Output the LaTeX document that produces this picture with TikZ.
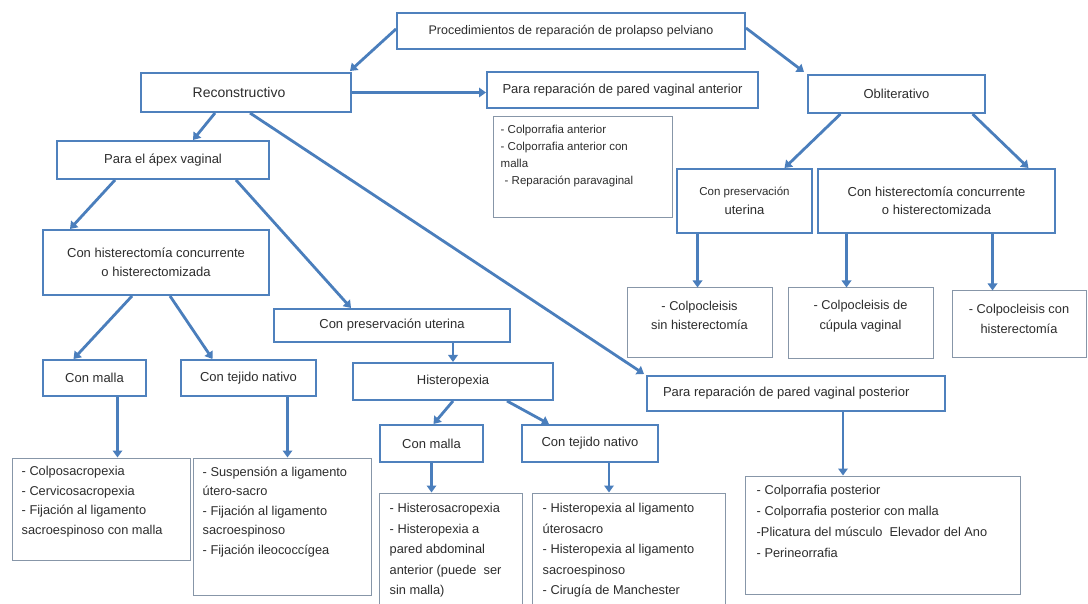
\documentclass[tikz,border=0pt]{standalone}
\usepackage{fontspec}
\setmainfont{Liberation Sans}
\usetikzlibrary{arrows.meta,calc}
\definecolor{catblue}{RGB}{79,129,189}
\definecolor{arrblue}{RGB}{74,126,188}
\definecolor{itemgray}{RGB}{135,150,168}
\definecolor{txt}{RGB}{45,45,45}
\newcommand{\lf}{\fontsize{13}{18.5}\selectfont}
\newcommand{\itf}{\fontsize{12.8}{19.5}\selectfont}
\newcommand{\bx}[7][cat]{%
  \pgfmathsetmacro{\bw}{#5-#3}\pgfmathsetmacro{\bh}{#6-#4}%
  \pgfmathsetmacro{\bcx}{(#3+#5)/2}\pgfmathsetmacro{\bcy}{(#4+#6)/2}%
  \node[#1, minimum width=\bw pt, minimum height=\bh pt] (#2) at (\bcx,\bcy) {#7};}
\tikzset{
  cat/.style={draw=catblue, line width=2pt, fill=white, font=\lf, text=txt, inner sep=0pt, align=center},
  item/.style={draw=itemgray, line width=1pt, fill=white, inner sep=0pt},
  itxt/.style={font=\itf, text=txt, align=left, inner sep=0pt, anchor=north west},
  ctxt/.style={font=\itf, text=txt, align=center, inner sep=0pt},
  arr/.style={draw=arrblue, line width=2.8pt, -{Triangle[length=7pt,width=9.5pt]}}
}
\begin{document}
\begin{tikzpicture}[x=1pt,y=-1pt]
\useasboundingbox (0,0) rectangle (1088,604);
\clip (0,0) rectangle (1088,604);
\fill[white] (0,0) rectangle (1088,604);

% category boxes
\bx{root}{397}{13}{745}{49}{\fontsize{12.5}{15}\selectfont Procedimientos de reparación de prolapso pelviano}
\bx{recon}{141}{73}{351}{112}{\fontsize{14}{16}\selectfont Reconstructivo\hspace*{14pt}}
\bx{anter}{487}{72}{758}{108}{Para reparación de pared vaginal anterior}
\bx{oblit}{808}{75}{985}{113}{Obliterativo}
\bx{apex}{57}{141}{269}{179}{Para el ápex vaginal}
\bx{presU}{677}{169}{812}{233}{\fontsize{11.5}{18}\selectfont Con preservación\\uterina}
\bx{histO}{818}{169}{1055}{233}{Con histerectomía concurrente\\o histerectomizada}
\bx{histL}{43}{230}{269}{295}{Con histerectomía concurrente\\o histerectomizada}
\bx{presL}{274}{309}{510}{342}{Con preservación uterina}
\bx{mallaL}{43}{360}{146}{396}{Con malla}
\bx{tejL}{181}{360}{316}{396}{Con tejido nativo}
\bx{hister}{353}{363}{553}{400}{Histeropexia}
\bx{poster}{647}{376}{945}{411}{}
\node[cat, draw=none, fill=none, anchor=west] (postertxt) at ([xshift=16pt]poster.west) {Para reparación de pared vaginal posterior};
\bx{mallaM}{380}{425}{483}{462}{Con malla}
\bx{tejM}{522}{425}{658}{462}{Con tejido nativo}

% item boxes
\bx[item]{antitems}{493}{117}{672}{218}{}
\node[itxt, font=\fontsize{11.5}{17}\selectfont] (antitxt) at ([xshift=8pt,yshift=-8pt]antitems.north west)
  {- Colporrafia anterior\\- Colporrafia anterior con\\malla\\\hspace{4pt}- Reparación paravaginal};
\bx[item]{colA}{627}{288}{772}{357}{}
\node[ctxt] (colAt) at ([yshift=7pt]colA.center) {- Colpocleisis\\sin histerectomía};
\bx[item]{colB}{788}{288}{933}{358}{}
\node[ctxt] (colBt) at ([yshift=7pt]colB.center) {- Colpocleisis de\\cúpula vaginal};
\bx[item]{colC}{952}{291}{1086}{357}{}
\node[ctxt] (colCt) at ([yshift=5pt]colC.center) {- Colpocleisis con\\histerectomía};
\bx[item]{iLa}{12}{458}{190}{560}{}
\node[itxt] (iLat) at ([xshift=10pt,yshift=-9pt]iLa.north west)
  {- Colposacropexia\\- Cervicosacropexia\\- Fijación al ligamento\\sacroespinoso con malla};
\bx[item]{iLb}{193}{458}{371}{595}{}
\node[itxt] (iLbt) at ([xshift=10pt,yshift=-9pt]iLb.north west)
  {- Suspensión a ligamento\\útero-sacro\\- Fijación al ligamento\\sacroespinoso\\- Fijación ileococcígea};
\bx[item]{iMa}{379}{493}{522}{615}{}
\node[itxt, font=\fontsize{12.8}{20.5}\selectfont] (iMat) at ([xshift=11pt,yshift=-11pt]iMa.north west)
  {- Histerosacropexia\\- Histeropexia a\\pared abdominal\\anterior (puede\ \ ser\\sin malla)};
\bx[item]{iMb}{532}{493}{725}{615}{}
\node[itxt, font=\fontsize{12.8}{20.5}\selectfont] (iMbt) at ([xshift=11pt,yshift=-11pt]iMb.north west)
  {- Histeropexia al ligamento\\úterosacro\\- Histeropexia al ligamento\\sacroespinoso\\- Cirugía de Manchester};
\bx[item]{iP}{745}{476}{1020}{594}{}
\node[itxt, font=\fontsize{12.8}{21}\selectfont] (iPt) at ([xshift=12pt,yshift=-10pt]iP.north west)
  {- Colporrafia posterior\\- Colporrafia posterior con malla\\-Plicatura del músculo\ \ Elevador del Ano\\- Perineorrafia};

% connectors
\draw[arr] ([yshift=2pt]root.west) -- ([xshift=-2pt,yshift=1pt]recon.north east);
\draw[arr] ([yshift=3pt]root.east) -- ([xshift=-3pt,yshift=2pt]oblit.north west);
\draw[arr] (recon.east) -- (recon.east -| anter.west);
\draw[arr] ([xshift=-31pt]recon.south) -- ([xshift=30pt]apex.north);
\draw[arr] ([xshift=4pt]recon.south) -- ([xshift=-2pt,yshift=1pt]poster.north west);
\draw[arr] ([xshift=-48pt]apex.south) -- ([xshift=-86pt]histL.north);
\draw[arr] ([xshift=73pt]apex.south) -- ([xshift=-41pt]presL.north);
\draw[arr] ([xshift=-56pt]oblit.south) -- ([xshift=40pt]presU.north);
\draw[arr] ([xshift=76pt]oblit.south) -- ([xshift=92pt]histO.north);
\draw[arr] ([xshift=-47pt]presU.south) -- ([xshift=-47pt]presU.south |- colA.north);
\draw[arr] ([xshift=-90pt]histO.south) -- ([xshift=-90pt]histO.south |- colB.north);
\draw[arr] ([xshift=56pt]histO.south) -- ([xshift=56pt]histO.south |- colC.north);
\draw[arr] ([xshift=-24pt]histL.south) -- ([xshift=-21pt]mallaL.north);
\draw[arr] ([xshift=14pt]histL.south) -- ([xshift=-36pt]tejL.north);
\draw[arr] ([xshift=61pt]presL.south) -- ([xshift=61pt]presL.south |- hister.north);
\draw[arr] ([xshift=23pt]mallaL.south) -- ([xshift=23pt]mallaL.south |- iLa.north);
\draw[arr] ([xshift=39pt]tejL.south) -- ([xshift=39pt]tejL.south |- iLb.north);
\draw[arr] (hister.south) -- ([xshift=2pt]mallaM.north);
\draw[arr] ([xshift=54pt]hister.south) -- ([xshift=-41pt]tejM.north);
\draw[arr] (mallaM.south) -- (mallaM.south |- iMa.north);
\draw[arr] ([xshift=19pt]tejM.south) -- ([xshift=19pt]tejM.south |- iMb.north);
\draw[arr] ([xshift=47pt]poster.south) -- ([xshift=47pt]poster.south |- iP.north);
\end{tikzpicture}
\end{document}
